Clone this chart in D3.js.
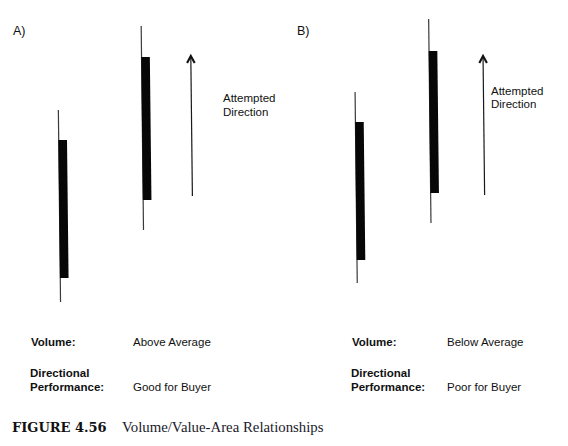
<!DOCTYPE html>
<html>
<head>
<meta charset="utf-8">
<script src="https://cdn.jsdelivr.net/npm/d3@7/dist/d3.min.js"></script>
<style>
  html, body { margin: 0; padding: 0; background: #fff; }
  svg { display: block; }
</style>
</head>
<body>
<svg id="chart" width="568" height="446"></svg>
<script>
// ---- data ----
const panels = ["A)", "B)"];
// candle: x = session position (wick), high, bodyTop, bodyBottom, low (price units)
const candlesA = [
  { x: 4.15, high: 66.7, top: 56.7, bottom: 10.7, low: 2.7 },
  { x: 10.05, high: 94.7, top: 84.3, bottom: 36.7, low: 26.7 }
];
const candlesB = [
  { x: 5.06, high: 72.7, top: 62.7, bottom: 16.7, low: 9.0 },
  { x: 10.3, high: 97.0, top: 86.3, bottom: 39.0, low: 29.0 }
];
const arrowsA = { x: 13.52, from: 38.0, to: 85.0 };
const arrowsB = { x: 14.1, from: 38.3, to: 85.0 };
const arrowLabel = ["Attempted", "Direction"];
const volumeValues = ["Above Average", "Below Average"];
const performanceValues = ["Good for Buyer", "Poor for Buyer"];
const captionNumber = "FIGURE 4.56";
const captionTitle = "Volume/Value-Area Relationships";

// ---- layout ----
const svg = d3.select("#chart");
const W = 568, H = 446;
const panelScale = d3.scaleBand().domain(panels).range([0, W]);
const x = d3.scaleLinear().domain([0, 20]).range([0, panelScale.bandwidth()]);
const y = d3.scaleLinear().domain([0, 100]).range([310, 10]);

const sans = "'Liberation Sans', Arial, Helvetica, sans-serif";
const ink = "#111";

const panelData = [
  { name: panels[0], candles: candlesA, arrow: arrowsA,
    labelX: 13, labelY: 35, textX: 223, textY: [102, 116],
    volX: 31, valX: 133, vol: volumeValues[0], perf: performanceValues[0] },
  { name: panels[1], candles: candlesB, arrow: arrowsB,
    labelX: 13, labelY: 35, textX: 207, textY: [95, 108],
    volX: 68, valX: 163, vol: volumeValues[1], perf: performanceValues[1] }
];

const bodyW = 8.6;
const skewY = 160;

panelData.forEach(p => {
  const g = svg.append("g").attr("transform", `translate(${panelScale(p.name)},0)`);

  g.append("text")
    .attr("x", p.labelX).attr("y", p.labelY)
    .attr("font-family", sans).attr("font-size", 12.5).attr("fill", ink)
    .text(p.name);

  const marks = g.append("g")
    .attr("transform", `translate(0,${skewY}) skewX(0.65) translate(0,${-skewY})`);

  const c = marks.selectAll("g.candle").data(p.candles).enter().append("g").attr("class", "candle");
  c.append("line")
    .attr("x1", d => x(d.x)).attr("x2", d => x(d.x))
    .attr("y1", d => y(d.high)).attr("y2", d => y(d.low))
    .attr("stroke", "#3a3a3a").attr("stroke-width", 1.2);
  c.append("rect")
    .attr("x", d => x(d.x) - 0.3)
    .attr("y", d => y(d.top))
    .attr("width", bodyW)
    .attr("height", d => y(d.bottom) - y(d.top))
    .attr("fill", "#070707");

  const a = p.arrow;
  const ax = x(a.x), tip = y(a.to);
  marks.append("line")
    .attr("x1", ax).attr("x2", ax)
    .attr("y1", y(a.from)).attr("y2", tip + 2)
    .attr("stroke", "#1a1a1a").attr("stroke-width", 1.2);
  marks.append("path")
    .attr("d", `M${ax - 3.8},${tip + 8} L${ax},${tip + 1} L${ax + 3.8},${tip + 8}`)
    .attr("fill", "none").attr("stroke", "#111")
    .attr("stroke-width", 2.1).attr("stroke-linejoin", "miter").attr("stroke-linecap", "butt");

  const t = g.append("text")
    .attr("font-family", sans).attr("font-size", 11.5).attr("fill", ink);
  arrowLabel.forEach((s, i) => {
    t.append("tspan").attr("x", p.textX).attr("y", p.textY[i]).text(s);
  });

  // bottom annotation
  g.append("text").attr("x", p.volX).attr("y", 346)
    .attr("font-family", sans).attr("font-size", 11.5).attr("font-weight", "bold").attr("fill", ink)
    .text("Volume:");
  g.append("text").attr("x", p.valX).attr("y", 346)
    .attr("font-family", sans).attr("font-size", 11.5).attr("fill", ink)
    .text(p.vol);
  const dp = g.append("text")
    .attr("font-family", sans).attr("font-size", 11.5).attr("font-weight", "bold").attr("fill", ink);
  dp.append("tspan").attr("x", p.volX - 1).attr("y", 377).text("Directional");
  dp.append("tspan").attr("x", p.volX - 1).attr("y", 391).text("Performance:");
  g.append("text").attr("x", p.valX).attr("y", 391)
    .attr("font-family", sans).attr("font-size", 11.5).attr("fill", ink)
    .text(p.perf);
});

// caption
svg.append("text")
  .attr("x", 12).attr("y", 432)
  .attr("font-family", "'DejaVu Serif', serif").attr("font-weight", "bold")
  .attr("font-size", 13).attr("fill", "#111")
  .text(captionNumber);
svg.append("text")
  .attr("x", 122).attr("y", 432)
  .attr("font-family", "'Liberation Serif', 'Times New Roman', serif")
  .attr("font-size", 14.8).attr("fill", "#1a1a2a")
  .text(captionTitle);
</script>
</body>
</html>
